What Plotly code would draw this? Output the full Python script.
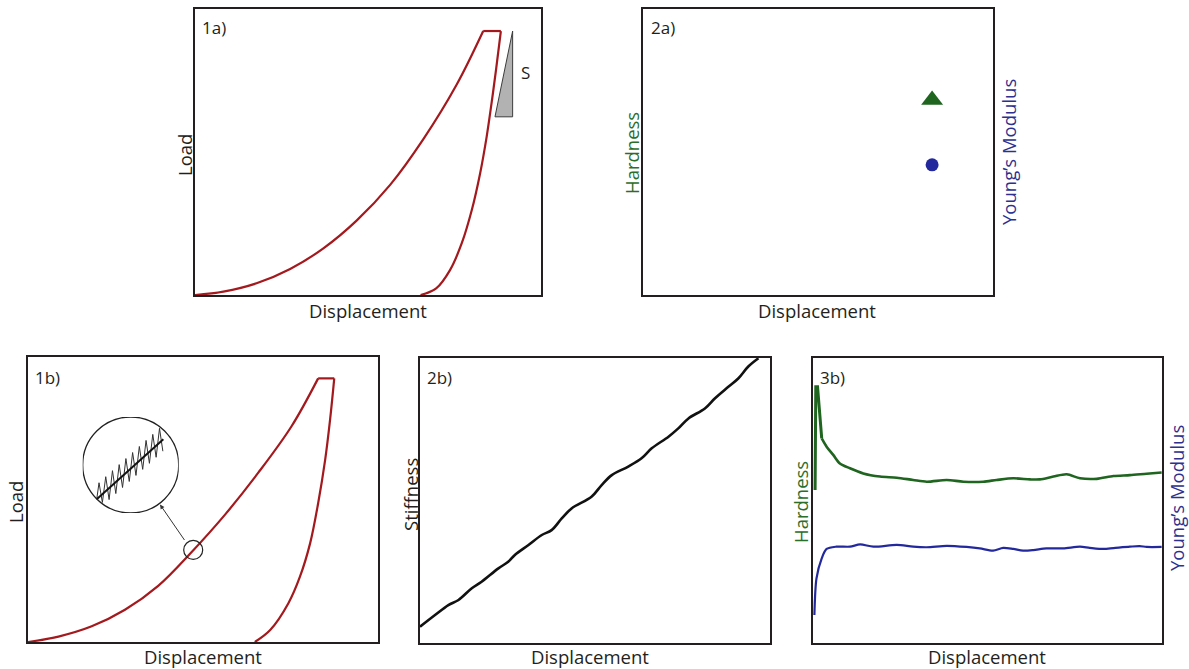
import plotly.graph_objects as go

W, H = 1189, 669

# ---------------- data (normalised 0..1 in each panel) ----------------
# 1a) load-displacement
load1a_x = [0.0, 0.082, 0.178, 0.275, 0.371, 0.467, 0.564, 0.660, 0.756, 0.833]
load1a_y = [0.0, 0.012, 0.041, 0.091, 0.163, 0.260, 0.385, 0.545, 0.735, 0.923]
hold1a_x = [0.833, 0.884]
hold1a_y = [0.923, 0.923]
unload1a_x = [0.884, 0.870, 0.857, 0.843, 0.824, 0.800, 0.771, 0.737, 0.697, 0.652]
unload1a_y = [0.923, 0.787, 0.670, 0.554, 0.425, 0.297, 0.181, 0.087, 0.023, 0.0]
stiff_tri_x = [0.918, 0.867, 0.918, 0.918]
stiff_tri_y = [0.923, 0.623, 0.623, 0.923]

# 2a) single values
hard2a_x, hard2a_y = [0.826], [0.682]
mod2a_x, mod2a_y = [0.826], [0.455]

# 1b) CSM load-displacement
load1b_x = [0.0, 0.087, 0.182, 0.277, 0.372, 0.467, 0.563, 0.658, 0.753, 0.829]
load1b_y = [0.0, 0.019, 0.055, 0.113, 0.197, 0.315, 0.447, 0.594, 0.757, 0.925]
hold1b_x = [0.829, 0.875]
hold1b_y = [0.925, 0.925]
unload1b_x = [0.875, 0.863, 0.849, 0.829, 0.806, 0.777, 0.744, 0.692, 0.648]
unload1b_y = [0.925, 0.779, 0.639, 0.487, 0.346, 0.229, 0.136, 0.042, 0.0]

# zoomed CSM oscillation (inset units, circle radius = 1)
csm_line_x = [-0.708, 0.68]
csm_line_y = [-0.713, 0.536]
csm_osc_x = [-0.708, -0.66, -0.59, -0.52, -0.45, -0.38, -0.31, -0.24, -0.17, -0.10, -0.03,
             0.04, 0.11, 0.18, 0.25, 0.32, 0.39, 0.46, 0.53, 0.60, 0.67]
csm_osc_y = [-0.713, -0.370, -0.780, -0.244, -0.721, -0.118, -0.595, 0.008, -0.469, 0.134, -0.343,
             0.260, -0.217, 0.386, -0.091, 0.512, 0.035, 0.638, 0.161, 0.764, 0.287]

# 2b) stiffness vs displacement
stiff_x = [0.0, 0.043, 0.081, 0.110, 0.148, 0.176, 0.224, 0.252, 0.271, 0.310, 0.348, 0.376,
           0.405, 0.433, 0.490, 0.519, 0.548, 0.595, 0.633, 0.662, 0.710, 0.738, 0.767, 0.814,
           0.843, 0.881, 0.910, 0.938, 0.967]
stiff_y = [0.057, 0.098, 0.133, 0.151, 0.192, 0.215, 0.262, 0.285, 0.309, 0.344, 0.379, 0.396,
           0.437, 0.472, 0.513, 0.554, 0.589, 0.619, 0.648, 0.683, 0.724, 0.753, 0.788, 0.823,
           0.859, 0.899, 0.929, 0.970, 0.999]

# 3b) hardness and modulus vs displacement
hard_x = [0.006, 0.008, 0.013, 0.018, 0.025, 0.039, 0.058, 0.077, 0.106, 0.144, 0.192, 0.240,
          0.287, 0.326, 0.383, 0.431, 0.488, 0.526, 0.574, 0.622, 0.650, 0.689, 0.727, 0.765,
          0.813, 0.861, 0.908, 0.956, 0.999]
hard_y = [0.537, 0.899, 0.899, 0.812, 0.718, 0.689, 0.660, 0.630, 0.613, 0.595, 0.584, 0.580,
          0.572, 0.566, 0.572, 0.566, 0.566, 0.572, 0.578, 0.574, 0.574, 0.584, 0.592, 0.578,
          0.576, 0.586, 0.589, 0.594, 0.598]
mod_x = [0.004, 0.010, 0.025, 0.039, 0.067, 0.106, 0.135, 0.173, 0.240, 0.287, 0.326, 0.383,
         0.440, 0.478, 0.516, 0.545, 0.574, 0.602, 0.631, 0.669, 0.717, 0.765, 0.793, 0.832,
         0.861, 0.908, 0.936, 0.956, 0.999]
mod_y = [0.098, 0.227, 0.297, 0.330, 0.338, 0.338, 0.346, 0.338, 0.344, 0.338, 0.336, 0.341,
         0.337, 0.332, 0.324, 0.334, 0.330, 0.324, 0.326, 0.332, 0.332, 0.338, 0.334, 0.330,
         0.333, 0.338, 0.340, 0.337, 0.337]

# ---------------- styling ----------------
RED = "#a3191d"
GREEN = "#1f641f"
BLUE = "#23299c"
GREEN_T = "#2a6e2a"
BLUE_T = "#2c3190"
FRAME = "#231f20"
FONT = "Open Sans"

# panel pixel boxes: left, right, top, bottom
boxes = {
    "1": (195, 541, 9, 295),    # 1a
    "2": (643, 993, 9, 295),    # 2a
    "3": (28, 378, 357, 642),   # 1b
    "4": (420, 770, 358, 643),  # 2b
    "5": (813, 1162, 358, 643), # 3b
}
inset_box = (82.7, 178.7, 417, 513)


def xdom(l, r):
    return [l / W, r / W]


def ydom(t, b):
    return [1 - b / H, 1 - t / H]


def P(x, y):
    return x / W, 1 - y / H


fig = go.Figure()


def ax_names(k):
    return ("x" if k == "1" else "x" + k), ("y" if k == "1" else "y" + k)


def line_trace(xs, ys, k, color, width, shape="spline", smoothing=1.0):
    xa, ya = ax_names(k)
    line = dict(color=color, width=width, shape=shape)
    if shape == "spline":
        line["smoothing"] = smoothing
    fig.add_trace(go.Scatter(x=xs, y=ys, xaxis=xa, yaxis=ya, mode="lines", line=line,
                             hoverinfo="skip", showlegend=False))


# 1a
line_trace(load1a_x, load1a_y, "1", RED, 2.2)
line_trace(hold1a_x, hold1a_y, "1", RED, 2.2, "linear")
line_trace(unload1a_x, unload1a_y, "1", RED, 2.2)
fig.add_trace(go.Scatter(x=stiff_tri_x, y=stiff_tri_y, xaxis="x", yaxis="y", mode="lines",
                         fill="toself", fillcolor="#b2b2b2",
                         line=dict(color="#3c3c3c", width=1), hoverinfo="skip", showlegend=False))
# 2a
fig.add_trace(go.Scatter(x=hard2a_x, y=hard2a_y, xaxis="x2", yaxis="y2", mode="markers",
                         marker=dict(symbol="triangle-up", size=19, color=GREEN),
                         hoverinfo="skip", showlegend=False))
fig.add_trace(go.Scatter(x=mod2a_x, y=mod2a_y, xaxis="x2", yaxis="y2", mode="markers",
                         marker=dict(symbol="circle", size=13, color=BLUE),
                         hoverinfo="skip", showlegend=False))
# 1b
line_trace(load1b_x, load1b_y, "3", RED, 2.2)
line_trace(hold1b_x, hold1b_y, "3", RED, 2.2, "linear")
line_trace(unload1b_x, unload1b_y, "3", RED, 2.2)
# 2b
line_trace(stiff_x, stiff_y, "4", "#111111", 2.6, smoothing=1.0)
# 3b
line_trace(hard_x[:5], hard_y[:5], "5", GREEN, 3, "linear")
line_trace(hard_x[4:], hard_y[4:], "5", GREEN, 2.6, smoothing=0.8)
line_trace(mod_x, mod_y, "5", BLUE, 2.2, smoothing=0.8)
# inset
fig.add_trace(go.Scatter(x=csm_osc_x, y=csm_osc_y, xaxis="x6", yaxis="y6", mode="lines",
                         line=dict(color="#333333", width=1), hoverinfo="skip", showlegend=False))
fig.add_trace(go.Scatter(x=csm_line_x, y=csm_line_y, xaxis="x6", yaxis="y6", mode="lines",
                         line=dict(color="#111111", width=2), hoverinfo="skip", showlegend=False))

axis_style = dict(showline=True, mirror=True, linewidth=2, linecolor=FRAME,
                  showticklabels=False, ticks="", showgrid=False, zeroline=False,
                  range=[0, 1], fixedrange=True)

layout = dict(width=W, height=H, margin=dict(l=0, r=0, t=0, b=0),
              paper_bgcolor="white", plot_bgcolor="white", showlegend=False)
for k, (l, r, t, b) in boxes.items():
    xa, ya = ax_names(k)
    xkey = "xaxis" if k == "1" else "xaxis" + k
    ykey = "yaxis" if k == "1" else "yaxis" + k
    layout[xkey] = dict(domain=xdom(l, r), anchor=ya, **axis_style)
    layout[ykey] = dict(domain=ydom(t, b), anchor=xa, **axis_style)

il, ir, it, ib = inset_box
layout["xaxis6"] = dict(domain=xdom(il, ir), anchor="y6", range=[-1, 1], visible=False, fixedrange=True)
layout["yaxis6"] = dict(domain=ydom(it, ib), anchor="x6", range=[-1, 1], visible=False, fixedrange=True)
fig.update_layout(**layout)

# magnifier circles
fig.add_shape(type="circle", xref="x6", yref="y6", x0=-1, x1=1, y0=-1, y1=1,
              line=dict(color="#222222", width=1.3))
fig.add_shape(type="circle", xref="x3", yref="y3", xsizemode="pixel", ysizemode="pixel",
              xanchor=0.472, yanchor=0.323, x0=-9.5, x1=9.5, y0=-9.5, y1=9.5,
              line=dict(color="#222222", width=1.2))

ann = []


def text(s, x, y, size=18.5, color="#231f20", angle=0, xanchor="center"):
    px, py = P(x, y)
    ann.append(dict(text=s, x=px, y=py, xref="paper", yref="paper", showarrow=False,
                    textangle=angle, xanchor=xanchor, yanchor="middle",
                    font=dict(family=FONT, size=size, color=color)))


# panel tags
text("1a)", 200, 28, 17, xanchor="left")
text("2a)", 649, 28, 17, xanchor="left")
text("1b)", 33, 377, 17, xanchor="left")
text("2b)", 425, 377, 17, xanchor="left")
text("3b)", 818, 377, 17, xanchor="left")
text("S", 525, 73, 17)
# axis titles
text("Displacement", 368, 311)
text("Load", 184, 155, angle=-90)
text("Displacement", 817, 311)
text("Hardness", 631, 153, color=GREEN_T, angle=-90)
text("Young’s Modulus", 1008, 152, color=BLUE_T, angle=-90)
text("Displacement", 203, 656)
text("Load", 15, 502, angle=-90)
text("Displacement", 590, 656)
text("Stiffness", 410, 495, angle=-90)
text("Displacement", 987, 656)
text("Hardness", 800, 502, color=GREEN_T, angle=-90)
text("Young’s Modulus", 1176, 498, color=BLUE_T, angle=-90)

# arrow from small circle to magnifier
hx, hy = P(160, 504.5)
ann.append(dict(text="", x=hx, y=hy, xref="paper", yref="paper", showarrow=True,
                ax=25.5, ay=37, arrowhead=2, arrowsize=0.9, arrowwidth=1,
                arrowcolor="#333333", standoff=0, startstandoff=0))
fig.update_layout(annotations=ann)

fig.write_html("out.html")
